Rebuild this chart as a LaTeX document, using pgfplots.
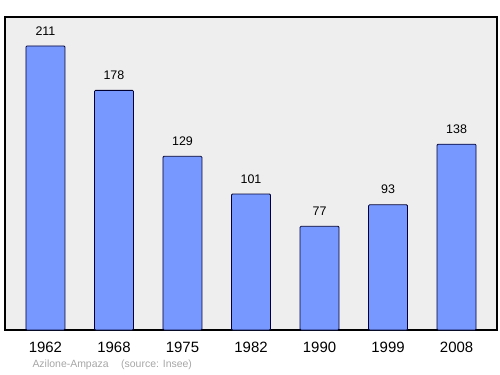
\documentclass[border=0pt]{standalone}
\usepackage{pgfplots}
\pgfplotsset{compat=1.18}
\usepackage{fontspec}
\setmainfont{Liberation Sans}
\definecolor{barfill}{HTML}{7799FF}
\definecolor{bgc}{HTML}{EEEEEE}
\begin{document}
\begin{tikzpicture}[x=1bp,y=1bp]
\path[use as bounding box] (0,0) rectangle (500,374);
\begin{axis}[
  at={(5bp,44bp)}, anchor=south west,
  scale only axis, width=492bp, height=313bp,
  xmin=-0.59, xmax=6.59, ymin=0, ymax=232.5,
  axis background/.style={fill=bgc},
  axis line style={black, line width=1.2pt},
  ytick=\empty,
  xtick={0,1,2,3,4,5,6},
  xticklabels={1962,1968,1975,1982,1990,1999,2008},
  major tick length=0pt,
  xticklabel style={font=\fontsize{15pt}{17pt}\selectfont, yshift=-9bp},
  /pgf/number format/assume math mode=true,
  nodes near coords,
  nodes near coords style={font=\fontsize{12.5pt}{14pt}\selectfont, black, yshift=7bp},
  clip=false,
]
\addplot[ybar, bar width=39bp, fill=barfill, draw=black!80!blue, line width=0.8pt, rounded corners=1pt]
coordinates {(0,211) (1,178) (2,129) (3,101) (4,77) (5,93) (6,138)};
\end{axis}
\node[anchor=west, text=black!35, font=\fontsize{10.5pt}{12pt}\selectfont] at (29bp,9bp) {Azilone-Ampaza\hspace{1.2em}(source: Insee)};
\end{tikzpicture}
\end{document}
